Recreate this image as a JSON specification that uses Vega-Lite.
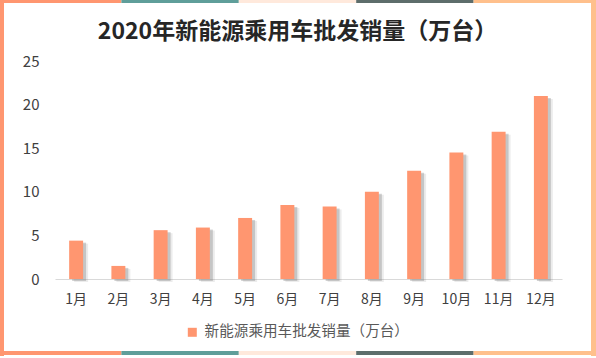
{
  "$schema": "https://vega.github.io/schema/vega-lite/v6.json",
  "background": "white",
  "padding": 0,
  "config": {
    "view": {"stroke": null},
    "font": "Noto Sans CJK SC"
  },
  "datasets": {
    "sales": [
      {"month": "1月", "value": 4.4},
      {"month": "2月", "value": 1.5},
      {"month": "3月", "value": 5.6},
      {"month": "4月", "value": 5.9},
      {"month": "5月", "value": 7.0},
      {"month": "6月", "value": 8.5},
      {"month": "7月", "value": 8.3},
      {"month": "8月", "value": 10.0},
      {"month": "9月", "value": 12.4},
      {"month": "10月", "value": 14.5},
      {"month": "11月", "value": 16.9},
      {"month": "12月", "value": 21.0}
    ],
    "frame": [
      {"seg": 1, "c": "#FF9670"},
      {"seg": 2, "c": "#5F9E9A"},
      {"seg": 3, "c": "#FFE9DC"},
      {"seg": 4, "c": "#5D6D6B"},
      {"seg": 5, "c": "#FFC08C"}
    ],
    "one": [{"k": 1}]
  },
  "resolve": {"scale": {"color": "independent"}, "legend": {"color": "independent"}},
  "spacing": 0,
  "hconcat": [
    {
      "width": 4,
      "height": 356,
      "data": {"name": "one"},
      "mark": {"type": "rect", "color": "#FF9670"},
      "encoding": {}
    },
    {
      "spacing": 18,
      "resolve": {"scale": {"color": "independent"}, "legend": {"color": "independent"}},
      "vconcat": [
        {
          "width": 587,
          "height": 3,
          "data": {"name": "frame"},
          "mark": "rect",
          "encoding": {
            "x": {"field": "seg", "type": "ordinal", "axis": null, "scale": {"paddingInner": 0, "paddingOuter": 0}},
            "color": {"field": "c", "type": "nominal", "scale": null, "legend": null}
          }
        },
        {
          "spacing": 12,
          "resolve": {"scale": {"color": "independent"}, "legend": {"color": "independent"}},
          "vconcat": [
            {
              "width": 587,
              "height": 218,
              "data": {"name": "sales"},
              "title": {
                "text": "2020年新能源乘用车批发销量（万台）",
                "fontSize": 23,
                "fontWeight": "bold",
                "color": "#262626",
                "anchor": "middle",
                "offset": 10
              },
              "encoding": {
                "x": {
                  "field": "month",
                  "type": "ordinal",
                  "sort": null,
                  "scale": {"paddingInner": 0, "paddingOuter": 0, "range": [51, 558]},
                  "axis": {
                    "title": null,
                    "labelAngle": 0,
                    "ticks": false,
                    "domainColor": "#D9D9D9",
                    "domainWidth": 1,
                    "labelPadding": 13,
                    "labelFontSize": 14,
                    "labelColor": "#404040"
                  }
                },
                "y": {
                  "field": "value",
                  "type": "quantitative",
                  "scale": {"domain": [0, 25]},
                  "axis": {
                    "title": null,
                    "values": [0, 5, 10, 15, 20, 25],
                    "domain": false,
                    "ticks": false,
                    "grid": false,
                    "offset": -51,
                    "labelPadding": 16,
                    "labelFontSize": 15,
                    "labelColor": "#404040",
                    "minExtent": 0
                  }
                }
              },
              "layer": [
                {
                  "mark": {"type": "bar", "width": {"band": 0.33}, "color": "#7F7F7F", "opacity": 0.15, "xOffset": 5, "yOffset": 3}
                },
                {
                  "mark": {"type": "bar", "width": {"band": 0.33}, "color": "#7F7F7F", "opacity": 0.35, "xOffset": 3, "yOffset": 2}
                },
                {
                  "mark": {"type": "bar", "width": {"band": 0.33}},
                  "encoding": {
                    "color": {
                      "datum": "新能源乘用车批发销量（万台）",
                      "scale": {"range": ["#FF9670"]},
                      "legend": {
                        "title": null,
                        "orient": "none",
                        "legendX": 181,
                        "legendY": 264,
                        "symbolType": "square",
                        "symbolSize": 81,
                        "symbolStrokeWidth": 0,
                        "labelFontSize": 14.6,
                        "labelOffset": 5,
                        "labelLimit": 400,
                        "labelColor": "#595959"
                      }
                    }
                  }
                }
              ]
            },
            {
              "width": 587,
              "height": 4,
              "data": {"name": "frame"},
              "mark": "rect",
              "encoding": {
                "x": {"field": "seg", "type": "ordinal", "axis": null, "scale": {"paddingInner": 0, "paddingOuter": 0}},
                "color": {"field": "c", "type": "nominal", "scale": null, "legend": null}
              }
            }
          ]
        }
      ]
    },
    {
      "width": 5,
      "height": 356,
      "data": {"name": "one"},
      "mark": {"type": "rect", "color": "#FFC08C"},
      "encoding": {}
    }
  ]
}
